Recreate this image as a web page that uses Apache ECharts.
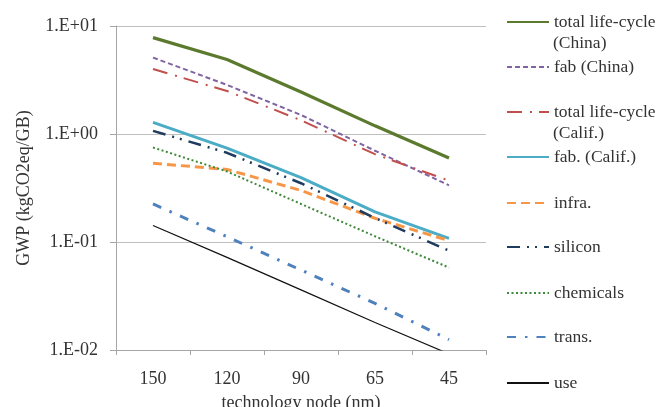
<!DOCTYPE html>
<html>
<head>
<meta charset="utf-8">
<script src="https://cdn.jsdelivr.net/npm/echarts@6/dist/echarts.min.js"></script>
<style>
  html, body { margin: 0; padding: 0; background: #fff; }
  #chart { width: 662px; height: 407px; }
</style>
</head>
<body>
<div id="chart"></div>
<script>
// Technology nodes (nm) and global warming potential per GB (kgCO2eq/GB)
const categories = ['150', '120', '90', '65', '45'];
const totalChina = [7.8, 4.9, 2.45, 1.19, 0.6];
const fabChina = [5.1, 2.85, 1.5, 0.7, 0.335];
const totalCalif = [4.0, 2.5, 1.34, 0.65, 0.37];
const fabCalif = [1.28, 0.74, 0.395, 0.19, 0.108];
const infra = [0.535, 0.47, 0.30, 0.166, 0.103];
const silicon = [1.07, 0.67, 0.35, 0.167, 0.083];
const chemicals = [0.75, 0.45, 0.225, 0.113, 0.058];
const trans = [0.225, 0.112, 0.055, 0.027, 0.0125];
const use = [0.142, 0.072, 0.036, 0.018, 0.0092];

const FONT = 'Liberation Serif';
const TEXT = '#333333';

const seriesDefs = [
  { name: 'total life-cycle (China)', label: 'total life-cycle', data: totalChina, color: '#5b7a2e', width: 3.2, type: 'solid', y: 22 },
  { name: 'fab (China)', label: 'fab (China)', data: fabChina, color: '#8064a2', width: 2, type: [5, 3], y: 67 },
  { name: 'total life-cycle (Calif.)', label: 'total life-cycle', data: totalCalif, color: '#c0504d', width: 2, type: [15, 8, 2, 7], y: 112 },
  { name: 'fab. (Calif.)', label: 'fab. (Calif.)', data: fabCalif, color: '#4bacc6', width: 3, type: 'solid', y: 157 },
  { name: 'infra.', label: 'infra.', data: infra, color: '#f79646', width: 3, type: [9, 5], y: 203 },
  { name: 'silicon', label: 'silicon', data: silicon, color: '#1f3b5e', width: 2.5, type: [13, 7, 2, 6, 2, 7], y: 247 },
  { name: 'chemicals', label: 'chemicals', data: chemicals, color: '#3f8a3a', width: 2, type: [2, 2.5], y: 293 },
  { name: 'trans.', label: 'trans.', data: trans, color: '#4f81bd', width: 3, type: [9, 9, 2.5, 9], y: 337 },
  { name: 'use', label: 'use', data: use, color: '#111111', width: 1.2, type: 'solid', y: 383 }
];

const series = seriesDefs.map(d => ({
  name: d.name,
  type: 'line',
  data: d.data,
  symbol: 'none',
  smooth: false,
  clip: true,
  color: d.color,
  lineStyle: { color: d.color, width: d.width, type: d.type },
  emphasis: { disabled: true }
}));

// One legend block per entry so each row sits at its own height
const legends = seriesDefs.map(d => ({
  data: [d.name],
  left: 506,
  top: d.y - 10,
  padding: 0,
  orient: 'vertical',
  itemWidth: 42,
  itemHeight: 14,
  itemGap: 0,
  selectedMode: false,
  itemStyle: { opacity: 0 },
  formatter: () => d.label,
  textStyle: { fontFamily: FONT, fontSize: 17.5, color: TEXT, lineHeight: 20 }
}));

function sciLabel(v) {
  const e = Math.round(Math.log10(v));
  const s = e < 0 ? '-' : '+';
  const a = Math.abs(e);
  return '1.E' + s + (a < 10 ? '0' + a : a);
}

const chart = echarts.init(document.getElementById('chart'), null, { renderer: 'canvas' });
chart.setOption({
  animation: false,
  backgroundColor: '#ffffff',
  grid: { left: 116, right: 176, top: 26, bottom: 57, outerBoundsMode: 'none' },
  legend: legends,
  graphic: [
    { type: 'text', left: 553, top: 34, style: { text: '(China)', font: '17.5px "' + FONT + '"', fill: TEXT } },
    { type: 'text', left: 553, top: 124, style: { text: '(Calif.)', font: '17.5px "' + FONT + '"', fill: TEXT } }
  ],
  xAxis: {
    type: 'category',
    data: categories,
    boundaryGap: true,
    axisLine: { lineStyle: { color: '#a6a6a6', width: 1 } },
    axisTick: { show: true, length: 5, lineStyle: { color: '#a6a6a6' } },
    axisLabel: { fontFamily: FONT, fontSize: 18, color: TEXT, margin: 20 },
    name: 'technology node (nm)',
    nameLocation: 'middle',
    nameGap: 44,
    nameTextStyle: { fontFamily: FONT, fontSize: 18, color: TEXT }
  },
  yAxis: {
    type: 'log',
    logBase: 10,
    min: 0.01,
    max: 10,
    axisLine: { show: true, lineStyle: { color: '#a6a6a6', width: 1 } },
    axisTick: { show: true, length: 6, lineStyle: { color: '#a6a6a6' } },
    splitLine: { show: true, lineStyle: { color: '#bfbfbf', width: 1.2 } },
    axisLabel: { fontFamily: FONT, fontSize: 18, color: TEXT, margin: 18, formatter: sciLabel },
    name: 'GWP (kgCO2eq/GB)',
    nameLocation: 'middle',
    nameRotate: 90,
    nameGap: 83,
    nameTextStyle: { fontFamily: FONT, fontSize: 18, color: TEXT }
  },
  series: series
});
</script>
</body>
</html>
